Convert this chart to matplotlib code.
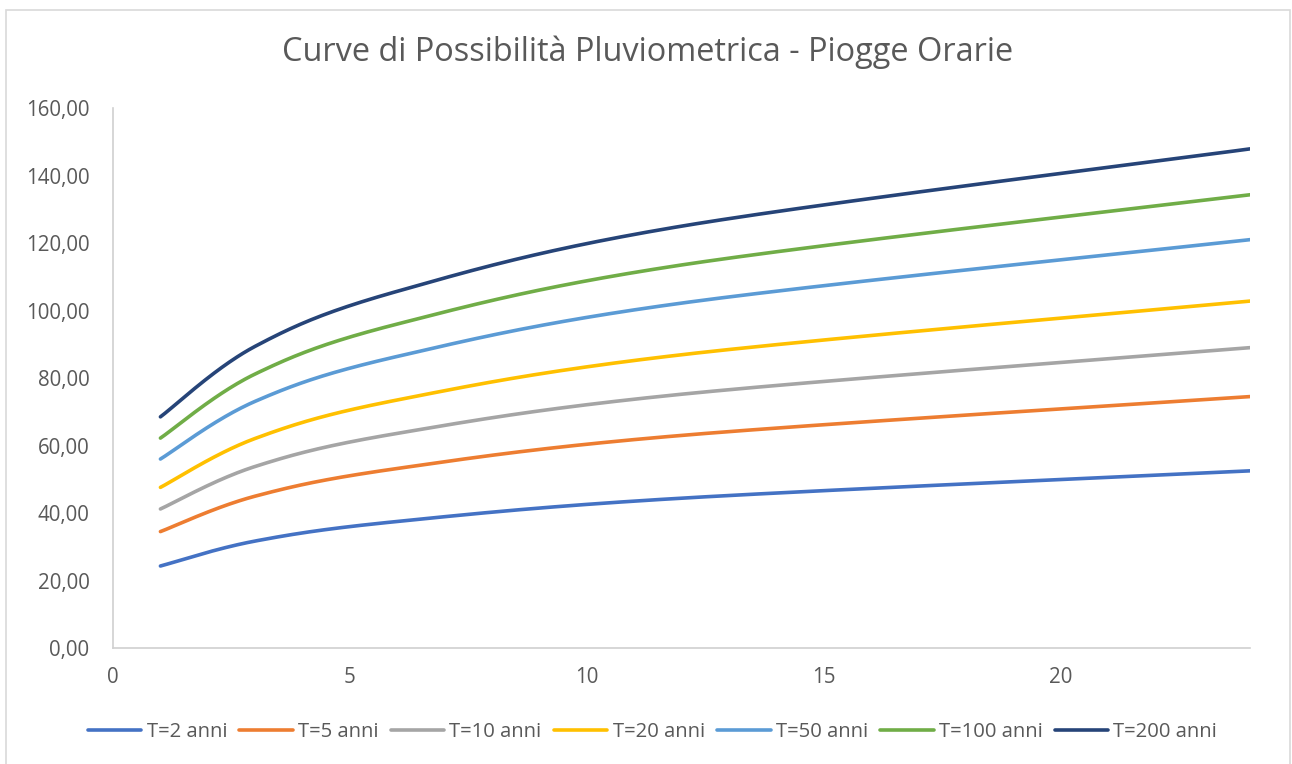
import numpy as np
import matplotlib
matplotlib.use("Agg")
import matplotlib.pyplot as plt
from matplotlib.patches import Rectangle
from matplotlib.ticker import FuncFormatter

# durate di pioggia (ore) e altezze di pioggia (mm) per tempo di ritorno
durate = [1, 3, 6, 12, 24]
h_T2 = [24.3, 31.7, 37.5, 44.4, 52.5]
h_T5 = [34.5, 45.0, 53.2, 63.0, 74.5]
h_T10 = [41.2, 53.8, 63.6, 75.2, 89.0]
h_T20 = [47.6, 62.1, 73.5, 86.9, 102.8]
h_T50 = [56.0, 73.1, 86.4, 102.2, 121.0]
h_T100 = [62.2, 81.2, 96.0, 113.5, 134.3]
h_T200 = [68.5, 89.4, 105.7, 125.0, 147.9]

serie = [h_T2, h_T5, h_T10, h_T20, h_T50, h_T100, h_T200]
etichette = ["T=2 anni", "T=5 anni", "T=10 anni", "T=20 anni",
             "T=50 anni", "T=100 anni", "T=200 anni"]
colori = ["#4472C4", "#ED7D31", "#A5A5A5", "#FFC000",
          "#5B9BD5", "#70AD47", "#264478"]

plt.rcParams['font.family'] = ['Open Sans', 'DejaVu Sans']
GRIGIO = "#595959"


def smussa(xs, ys, n=60):
    """Linea smussata tipo foglio di calcolo: Bezier cubiche tra i punti."""
    P = np.column_stack([xs, ys]).astype(float)
    P = np.vstack([P[0], P, P[-1]])
    t = np.linspace(0, 1, n)[:, None]
    out = []
    for i in range(1, len(P) - 2):
        p0, p1, p2, p3 = P[i - 1], P[i], P[i + 1], P[i + 2]
        c1 = p1 + (p2 - p0) / 6.0
        c2 = p2 - (p3 - p1) / 6.0
        seg = ((1 - t) ** 3) * p1 + 3 * ((1 - t) ** 2) * t * c1 \
            + 3 * (1 - t) * t ** 2 * c2 + t ** 3 * p2
        out.append(seg if i == 1 else seg[1:])
    out = np.vstack(out)
    return out[:, 0], out[:, 1]


fig = plt.figure(figsize=(12.92, 7.64), dpi=100)
ax = fig.add_axes([0.0875, 0.1518, 0.88, 0.7068])

for ys, lab, col in zip(serie, etichette, colori):
    sx, sy = smussa(durate, ys)
    ax.plot(sx, sy, color=col, lw=2.6, label=lab, solid_capstyle='round')

ax.set_xlim(0, 24)
ax.set_ylim(0, 160)
ax.set_xticks([0, 5, 10, 15, 20])
ax.set_yticks(np.arange(0, 161, 20))
ax.yaxis.set_major_formatter(FuncFormatter(lambda v, p: f"{v:.2f}".replace(".", ",")))
ax.tick_params(length=0, labelsize=14.8, colors=GRIGIO)
ax.tick_params(axis='y', pad=17)
ax.tick_params(axis='x', pad=14)

for s in ["top", "right"]:
    ax.spines[s].set_visible(False)
for s in ["left", "bottom"]:
    ax.spines[s].set_color("#D0D0D0")
    ax.spines[s].set_linewidth(1.2)

fig.text(0.5015, 0.932, "Curve di Possibilità Pluviometrica - Piogge Orarie",
         ha='center', va='center', fontsize=23.4, color=GRIGIO)

leg = fig.legend(loc='center', bbox_to_anchor=(0.505, 0.042), ncol=7,
                 frameon=False, fontsize=14.6, handlelength=2.65,
                 handletextpad=0.25, columnspacing=0.6)
for t in leg.get_texts():
    t.set_color(GRIGIO)

# cornice dell'area grafico
fig.patches.append(Rectangle((6 / 1292, -0.01), 1284 / 1292, 1 - 10 / 764 + 0.01,
                             transform=fig.transFigure, fill=False,
                             edgecolor="#D9D9D9", lw=1.2))

fig.savefig("out.png", dpi=100)
